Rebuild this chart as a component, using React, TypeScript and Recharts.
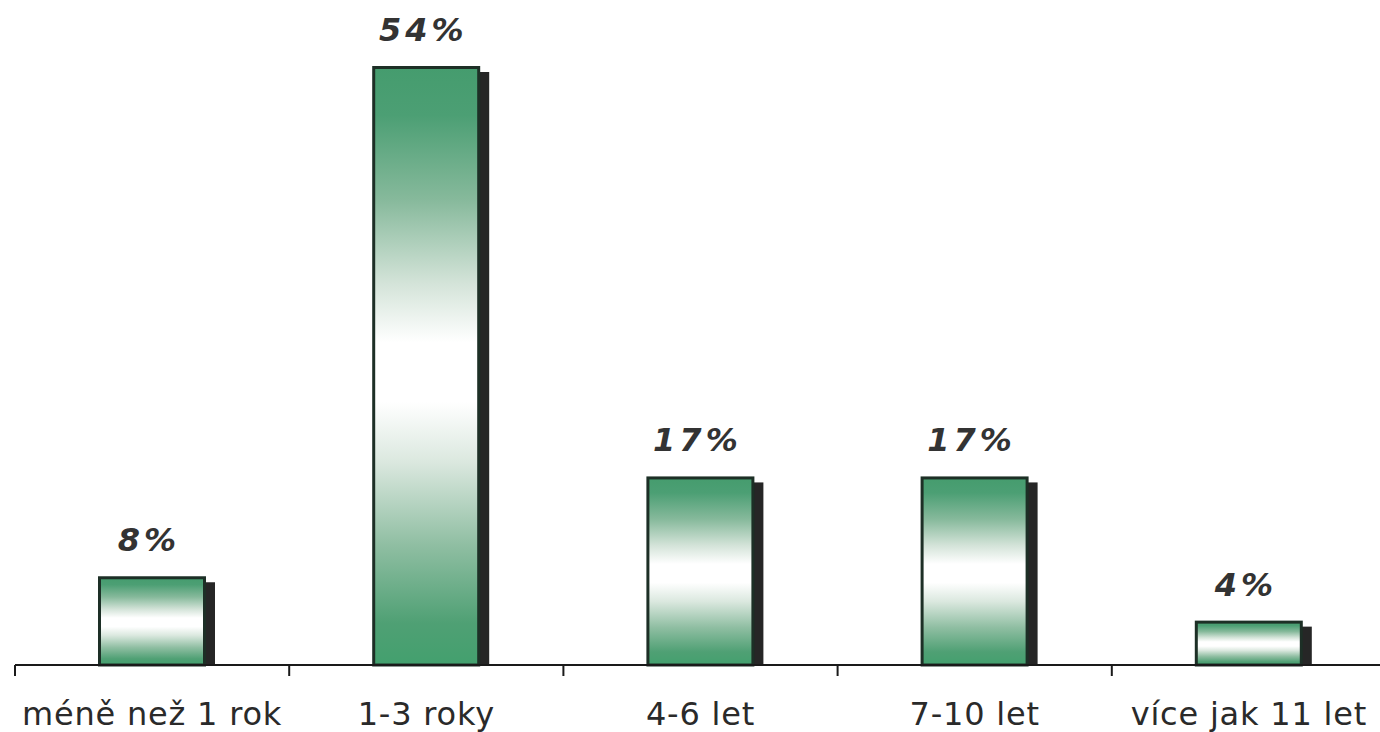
import React from "react";
import { BarChart, Bar, XAxis, YAxis, LabelList } from "recharts";

// Share of respondents by length of experience
const categories = ["méně než 1 rok", "1-3 roky", "4-6 let", "7-10 let", "více jak 11 let"];
const shares = [8, 54, 17, 17, 4];
const valueLabels = ["8%", "54%", "17%", "17%", "4%"];

const data = categories.map((name, i) => ({ name, value: shares[i], label: valueLabels[i] }));

const FONT = "'DejaVu Sans', Verdana, sans-serif";

// Bar with a dark drop shadow on the right and a green-white-green fill
const ShadowBar = (props: any) => {
  const { x, y, width, height } = props;
  if (height <= 0) return null;
  return (
    <g>
      <rect x={x + 9} y={y + 6} width={width} height={height - 6} fill="#262626" />
      <rect
        x={x + 1.5}
        y={y + 1.5}
        width={width - 3}
        height={height - 1.5}
        fill="url(#barFill)"
        stroke="#1d2f26"
        strokeWidth={3}
      />
    </g>
  );
};

// Category label with a tick mark on the left band boundary
const CategoryTick = (props: any) => {
  const { x, y, payload } = props;
  const half = payload && payload.offset ? payload.offset : 137;
  return (
    <g>
      <line x1={x - half} y1={y} x2={x - half} y2={y + 11} stroke="#1a1a1a" strokeWidth={2} />
      <text
        x={x}
        y={y + 60}
        textAnchor="middle"
        fontFamily={FONT}
        fontSize={32}
        letterSpacing={0.8}
        fill="#2a2a2a"
      >
        {payload.value}
      </text>
    </g>
  );
};

const ValueLabel = (props: any) => {
  const { x, y, width, value } = props;
  return (
    <text
      x={x + width / 2 - 3}
      y={y - 25}
      textAnchor="middle"
      fontFamily={FONT}
      fontSize={32}
      fontWeight="bold"
      fontStyle="italic"
      letterSpacing={4}
      fill="#333333"
    >
      {value}
    </text>
  );
};

export default function App() {
  return (
    <div
      style={{
        position: "absolute",
        left: 0,
        top: 0,
        width: 1380,
        height: 732,
        overflow: "hidden",
        background: "#ffffff",
      }}
    >
      <BarChart
        width={1386}
        height={732}
        data={data}
        margin={{ top: 66, right: 0, bottom: 0, left: 15 }}
        barSize={108}
      >
        <defs>
          <linearGradient id="barFill" x1="0" y1="0" x2="0" y2="1">
            <stop offset="0%" stopColor="#459c6e" />
            <stop offset="8%" stopColor="#4c9f74" />
            <stop offset="22%" stopColor="#86b99b" />
            <stop offset="36%" stopColor="#d3e3d8" />
            <stop offset="46%" stopColor="#ffffff" />
            <stop offset="56%" stopColor="#ffffff" />
            <stop offset="66%" stopColor="#dbe8df" />
            <stop offset="80%" stopColor="#8fbea2" />
            <stop offset="93%" stopColor="#4fa074" />
            <stop offset="100%" stopColor="#43a06e" />
          </linearGradient>
        </defs>
        <YAxis hide domain={[0, 54]} />
        <XAxis
          dataKey="name"
          height={67}
          tickSize={0}
          tickMargin={0}
          tickLine={false}
          axisLine={{ stroke: "#1a1a1a", strokeWidth: 2 }}
          tick={<CategoryTick />}
          interval={0}
        />
        <Bar dataKey="value" shape={<ShadowBar />} isAnimationActive={false}>
          <LabelList dataKey="label" content={<ValueLabel />} />
        </Bar>
      </BarChart>
    </div>
  );
}
